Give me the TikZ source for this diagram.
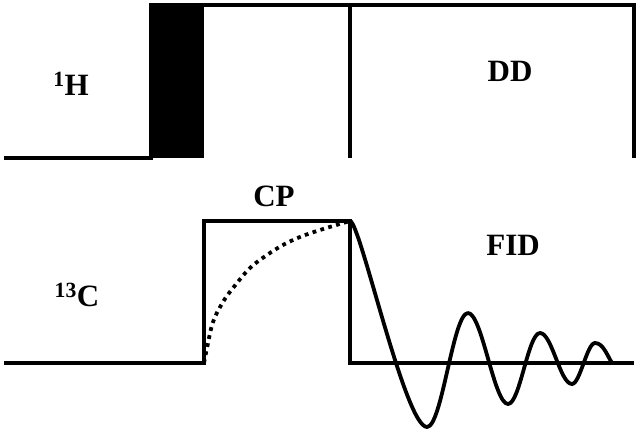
\documentclass[tikz,border=0pt]{standalone}
\usepackage{fontspec}
\setmainfont{Liberation Serif}
\usepackage{tikz}
\usetikzlibrary{positioning}

\begin{document}
\begin{tikzpicture}[
    x=1pt, y=-1pt,
    wave/.style={line width=3.8pt, line join=miter},
    dotwave/.style={line width=3.8pt, dash pattern=on 3.8pt off 4.4pt},
    lbl/.style={font=\bfseries\fontsize{31}{34}\selectfont, inner sep=0pt},
]
\useasboundingbox (0,0) rectangle (642,430);

% 1H channel
\fill (151,5) rectangle (204,158);
\draw[wave] (4,158) -- (151,158) -- (151,5) -- (634,5) -- (634,158);
\draw[wave] (350,5) -- (350,158);

% 13C channel
\draw[wave] (4,363) -- (204,363) -- (204,221) -- (350,221) -- (350,363) -- (634,363);
\draw[dotwave] plot[smooth, tension=0.6] coordinates {
    (204,363) (207,348) (213,322) (223,302) (233,288) (250,268) (267,255)
    (283,245) (300,237) (317,231) (333,226) (350,221)};

% FID
\draw[wave, line join=round] (350,221)
    .. controls (360,221) and (405,427) .. (427,427)
    .. controls (442,427) and (453,313) .. (468,313)
    .. controls (482,313) and (494,404) .. (508,404)
    .. controls (520,404) and (528,333) .. (540,333)
    .. controls (552,333) and (560,384) .. (572,384)
    .. controls (580,384) and (587,343) .. (595,343)
    .. controls (603,343) and (607,355) .. (612,363);

% labels
\node[lbl] (hlab) at (71,84) {\textsuperscript{1}H};
\node[lbl] (clab) at (77,295) {\textsuperscript{13}C};
\node[lbl] (dd) at (510,71) {DD};
\node[lbl] (cp) at (274,196) {CP};
\node[lbl] (fid) at (513,245) {FID};

\end{tikzpicture}
\end{document}
